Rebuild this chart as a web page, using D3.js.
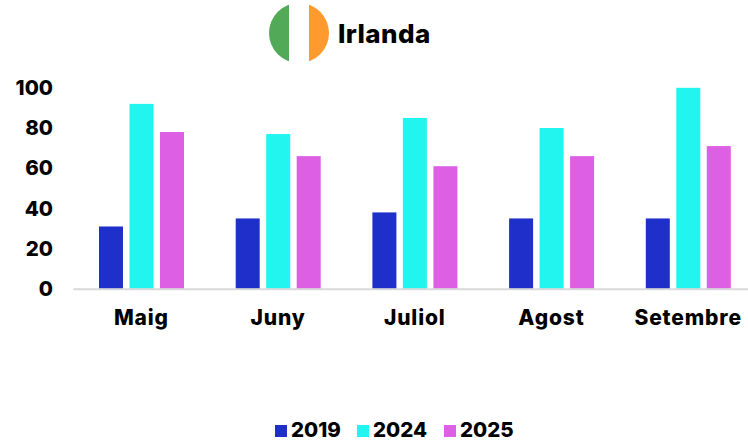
<!DOCTYPE html>
<html><head><meta charset="utf-8">
<script src="https://cdn.jsdelivr.net/npm/d3@7/dist/d3.min.js"></script>
<style>html,body{margin:0;background:#fff}svg{display:block}text{font-family:Inter,"Noto Sans",sans-serif;font-weight:800;fill:#000}</style>
</head><body><svg id="c" width="748" height="442"></svg>
<script>
const title="Irlanda";
const months=["Maig","Juny","Juliol","Agost","Setembre"];
const years=["2019","2024","2025"];
const v2019=[31,35,38,35,35];
const v2024=[92,77,85,80,100];
const v2025=[78,66,61,66,71];
const colors=["#1f2fca","#22f5f0","#dd60e4"];
const yTicks=[0,20,40,60,80,100];
const flagColors=["#52a957","#ffffff","#ff9a2e"];
const series=[v2019,v2024,v2025];
const svg=d3.select("#c");
const x=d3.scaleBand().domain(months).range([73,756.5]);
const x1=d3.scaleBand().domain(years).range([26,111]).paddingInner(0.213);
const y=d3.scaleLinear().domain([0,100]).range([288.8,87.8]);
years.forEach((yr,i)=>{
  svg.append("g").selectAll("rect").data(series[i]).join("rect")
    .attr("x",(d,j)=>x(months[j])+x1(yr)).attr("width",x1.bandwidth())
    .attr("y",d=>y(d)).attr("height",d=>y(0)-y(d)).attr("fill",colors[i]);
});
const ax=d3.axisBottom(x).tickSize(0).tickPadding(21);
const gx=svg.append("g").attr("transform",`translate(0,${y(0)})`).call(ax);
gx.select(".domain").attr("stroke","#d9d9d9").attr("stroke-width",2);
gx.selectAll("text").attr("font-size",21).attr("letter-spacing",0.85);
const ay=d3.axisLeft(y).tickValues(yTicks).tickSize(0).tickPadding(20);
const gy=svg.append("g").attr("transform","translate(73,0)").call(ay);
gy.select(".domain").remove();
gy.selectAll("text").attr("font-size",20.5).attr("dy","0.33em");
const fx=d3.scaleLinear().domain([0,3]).range([269,329]);
const defs=svg.append("defs");
defs.append("clipPath").attr("id","f").append("circle").attr("cx",fx(1.5)).attr("cy",33).attr("r",30);
svg.append("g").attr("clip-path","url(#f)").selectAll("rect").data(flagColors).join("rect")
  .attr("x",(d,i)=>fx(i)).attr("y",3).attr("width",fx(1)-fx(0)).attr("height",60).attr("fill",d=>d);
svg.append("text").attr("x",338).attr("y",43).attr("font-size",26).attr("letter-spacing",0.4).text(title);
const lx=d3.scaleOrdinal().domain(years).range([275,357,444]);
const lg=svg.append("g").selectAll("g").data(years).join("g").attr("transform",d=>`translate(${lx(d)},425)`);
lg.append("rect").attr("width",12).attr("height",12).attr("fill",(d,i)=>colors[i]);
lg.append("text").attr("x",16).attr("y",12).attr("font-size",20.5).text(d=>d);
</script></body></html>
